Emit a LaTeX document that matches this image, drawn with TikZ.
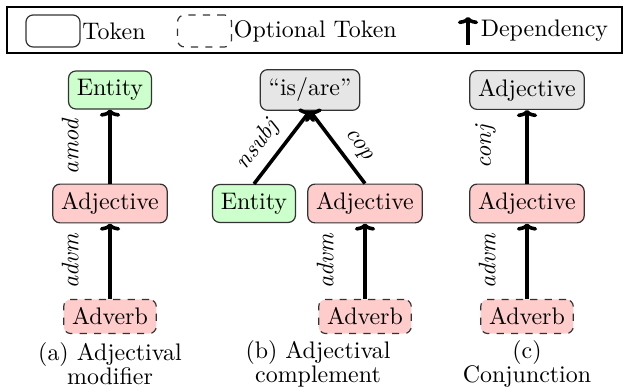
\documentclass[tikz,border=0pt]{standalone}
\usetikzlibrary{arrows.meta}
\definecolor{entgreen}{HTML}{CCFFCC}
\definecolor{adjred}{HTML}{FFCCCC}
\definecolor{copgray}{HTML}{E6E6E6}
\begin{document}
\begin{tikzpicture}[x=0.418pt, y=-0.418pt, line width=0.5pt,
  token/.style={draw=black!80, rounded corners=3pt, inner sep=3.5pt},
  optional/.style={token, dashed},
  legtext/.style={anchor=west, inner sep=0.5pt},
  dep/.style={line width=1.5pt, -{To[length=3pt, width=8.5pt]}},
  rel/.style={midway, sloped, above=#1, font=\itshape, inner sep=3.33pt},
  caption/.style={align=center, inner sep=0pt}]
  \useasboundingbox (0,0) rectangle (624,392);
  % legend
  \draw[line width=0.6pt] (7,7) rectangle (622,53);
  \node[token, minimum width=22.6pt, minimum height=13.4pt] (tokbox) at (53,31) {};
  \node[legtext] (toktxt) at (tokbox.east) {Token};
  \node[optional, minimum width=22.6pt, minimum height=13.4pt] (optbox) at (204.5,31) {};
  \node[legtext] (opttxt) at (optbox.east) {Optional Token};
  \coordinate (depbot) at (468,45);
  \coordinate (deptop) at (468,17);
  \draw[dep] (depbot) -- (deptop);
  \node[legtext] (deptxt) at (479,31) {Dependency};
  % (a)
  \node[token, fill=entgreen] (entA) at (110,90) {Entity};
  \node[token, fill=adjred] (adjA) at (110,203.5) {Adjective};
  \node[optional, fill=adjred] (advA) at (110,316.5) {Adverb};
  \draw[dep] (adjA) -- (entA) node[rel=9pt] {amod};
  \draw[dep] (advA) -- (adjA) node[rel=9pt] {advm};
  \node[caption] (capA) at (110,364) {(a) Adjectival\\[-2pt]modifier};
  % (b)
  \node[token, fill=copgray] (isB) at (310,90) {``is/are''};
  \node[token, fill=entgreen] (entB) at (254,203.5) {Entity};
  \node[token, fill=adjred] (adjB) at (365,203.5) {Adjective};
  \node[optional, fill=adjred] (advB) at (365,316.5) {Adverb};
  \draw[dep] (entB.north) -- (isB.south) node[rel=0pt, pos=0.36] {nsubj};
  \draw[dep] (adjB.north) -- (isB.south) node[rel=0pt, pos=0.38] {cop};
  \draw[dep] (advB) -- (adjB) node[rel=9pt] {advm};
  \node[caption] (capB) at (318,364) {(b) Adjectival\\[-2pt]complement};
  % (c)
  \node[token, fill=copgray] (adjC1) at (527,90) {Adjective};
  \node[token, fill=adjred] (adjC2) at (527,203.5) {Adjective};
  \node[optional, fill=adjred] (advC) at (527,316.5) {Adverb};
  \draw[dep] (adjC2) -- (adjC1) node[rel=9pt] {conj};
  \draw[dep] (advC) -- (adjC2) node[rel=9pt] {advm};
  \node[caption] (capC) at (527,364) {(c)\\[-2pt]Conjunction};
\end{tikzpicture}
\end{document}
